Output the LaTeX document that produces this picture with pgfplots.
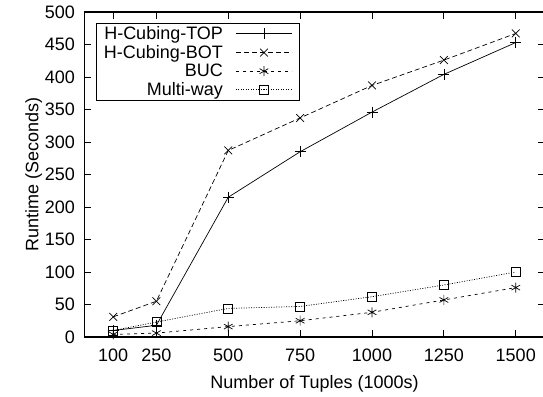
\documentclass[border=0pt]{standalone}
\usepackage{pgfplots}
\pgfplotsset{compat=1.18}
\usepackage{fontspec}
\setmainfont{Liberation Sans}
\begin{document}
\begin{tikzpicture}
\useasboundingbox (-84.5pt,-59pt) rectangle (458.5pt,337pt);
\begin{axis}[
  at={(0,0)}, anchor=south west,
  scale only axis, width=460pt, height=325pt,
  xmin=0, xmax=1600, ymin=0, ymax=500,
  xtick={100,250,500,750,1000,1250,1500},
  ytick={0,50,...,500},
  tick align=inside, major tick length=7pt,
  tick style={line width=0.8pt, black},
  axis line style={line width=1.2pt},
  /pgf/number format/assume math mode=true,
  /pgf/number format/1000 sep={},
  ticklabel style={font=\fontsize{18}{20}\selectfont},
  xticklabel style={yshift=-8pt},
  yticklabel style={xshift=-6pt},
  label style={font=\fontsize{18}{21}\selectfont},
  xlabel={Number of Tuples (1000s)},
  ylabel={Runtime (Seconds)},
  xlabel style={yshift=-7pt},
  ylabel style={yshift=-4pt},
  legend style={at={(0.024,0.966)}, anchor=north west, draw=black, line width=0.8pt,
    font=\fontsize{18}{19}\selectfont, inner ysep=1pt, inner xsep=6pt, row sep=0.3pt, column sep=0pt},
  legend cell align=right,
  legend plot pos=right,
  legend image code/.code={\draw[draw=none] (0pt,0pt) -- (68pt,0pt);
    \draw[#1, mark repeat=2, mark phase=2] plot coordinates {(11pt,0pt) (39pt,0pt) (67pt,0pt)};},
]
\addplot[black, line width=0.7pt, solid, mark=+, mark size=5.5pt, mark options={solid}] coordinates {
(100,10) (250,18) (500,215) (750,285) (1000,346) (1250,404) (1500,453)};
\addlegendentry{H-Cubing-TOP}
\addplot[black, line width=0.7pt, dash pattern=on 5pt off 3pt, mark=x, mark size=5.5pt, mark options={solid}] coordinates {
(100,31) (250,55) (500,287) (750,337) (1000,387) (1250,426) (1500,467)};
\addlegendentry{H-Cubing-BOT}
\addplot[black, line width=0.7pt, dash pattern=on 3pt off 4pt, mark=asterisk, mark size=5pt, mark options={solid}] coordinates {
(100,4) (250,6) (500,16) (750,25) (1000,38) (1250,57) (1500,76)};
\addlegendentry{BUC}
\addplot[black, line width=0.7pt, dash pattern=on 1pt off 1.5pt, mark=square, mark size=4.5pt, mark options={solid}] coordinates {
(100,10) (250,23) (500,44) (750,47) (1000,62) (1250,80) (1500,100)};
\addlegendentry{Multi-way}
\end{axis}
\end{tikzpicture}
\end{document}
